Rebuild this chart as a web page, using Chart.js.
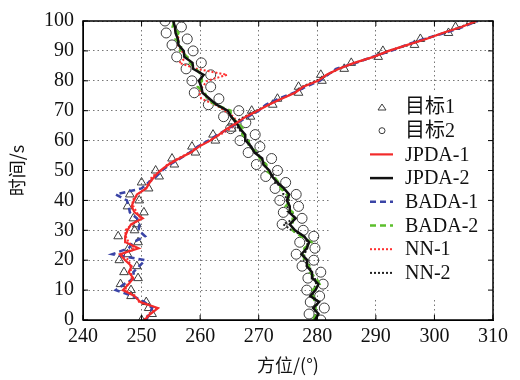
<!DOCTYPE html>
<html>
<head>
<meta charset="utf-8">
<script src="https://cdn.jsdelivr.net/npm/chart.js@4/dist/chart.umd.min.js"></script>
<style>
  body { margin: 0; background: #fff; }
  #wrap { width: 520px; height: 380px; }
</style>
</head>
<body>
<div id="wrap"><canvas id="c" width="520" height="380"></canvas></div>
<script>
// time axis (s), one sample every 2 s
const times = [0,2,4,6,8,10,12,14,16,18,20,22,24,26,28,30,32,34,36,38,40,42,44,46,48,50,
  52,54,56,58,60,62,64,66,68,70,72,74,76,78,80,82,84,86,88,90,92,94,96,98,100];

// measurements (bearing, deg)
const meas1 = [250,251.8,251.2,250.8,248.2,248.2,246.4,249.4,247,249.2,246.2,247.6,247.8,249.4,246,248.8,
  249.2,248.6,250.4,247.6,249.6,248,251.2,250,253,252.4,255.6,255.2,259.2,258.6,262.6,262.2,265.4,265.4,
  268.6,268.8,272.4,273.2,276.8,276.8,280.8,280.6,284.6,285.8,290.4,291.2,296.6,297.6,302.4,303.6,306.2];
const meas2 = [280.6,278.6,281.2,278.8,280.4,278.2,281,278.4,280.6,277.4,279.4,276.4,279.6,277,279.4,277.6,
  274,277.4,274.2,276.8,273.6,276.4,272.8,274.6,271.2,273.2,269.6,272.2,268.2,270.2,266.8,269.4,265.2,267.8,
  264,266.6,261.4,263.2,259,261.8,258.6,261.8,257.6,260.2,256,258.8,255.2,257.8,254.2,256.8,254];

// track estimates
const jpda1 = [250.5,251.5,252.8,249.8,248.8,246.8,247.8,248.6,247.8,248.3,247.2,246.3,249.5,247.3,247.2,247.6,
  248.2,250.2,248.8,248.3,248.7,249.2,250.8,251.4,252.2,253.2,254.6,256.4,258.4,259.8,261.7,263.2,264.6,266.3,
  267.8,269.8,271.7,273.9,276.2,277.6,280.1,281.6,283.7,286.3,289.6,292.2,295.4,298.6,301.4,304.6,307.2];
const jpda2 = [279.6,280.2,279.3,280.3,278.8,279.7,280.2,279.2,279.1,278.2,278.3,277.3,278.2,278.6,277.7,276.2,
  275.3,276.3,275.2,275.3,274.8,275.2,274.3,273.2,272.3,271.8,270.8,270.6,269.3,268.7,267.8,267.7,266.8,266.2,
  265.3,264.7,262.8,261.6,260.4,260.2,259.8,260.6,258.8,258.7,257.3,257.2,256.3,256.2,255.8,255.7,255.4];
const bada1 = [250.8,251.3,251.8,250.5,248.5,245.6,247,248.8,248.6,249.6,250.6,245,247.8,248.6,250.6,249.5,
  249.6,249.2,248,247.8,247.5,245.6,250,251.2,252.5,253.5,254.8,256.6,258.2,259.6,261.4,263,264.8,266.4,
  268.2,270,271.2,273.4,276,278,280.4,281.8,283.2,286.6,289.4,292.6,295.2,298.2,301.8,304.8,307.4];
const bada2 = [279.3,279.8,279.7,279.6,279.3,279.2,280.4,279.8,278.7,278.6,277.8,277.6,277.8,279,277.2,275.8,
  275.8,275.8,275.8,274.6,275.4,274.8,273.8,273.4,272.6,271.2,271.3,270.2,269.8,268.3,268.3,267.2,267.3,266.4,
  265.2,265.2,262.6,261.2,260.8,259.6,260.3,260.2,259.3,258.2,257.8,256.6,256.8,255.8,256.3,255.3,255.6];
const nn1 = [250.4,251.2,252.6,249.6,249,247.2,247.6,248.3,248.2,248.1,247.8,246.6,248.8,247.8,247.3,247.2,
  248.4,249.8,249.2,248.6,248.4,249.4,250.6,251.2,251.8,253.4,254.4,256.2,258.2,259.6,261.6,263.4,265.2,
  266.4,265.7,264.2,262.6,260.2,259.8,260.4,261.2,264.6,259.4,256.4,257.8,256.8,256.2,256.4,255.8,255.6,255.5];
const nn2 = [279.8,279.7,279.6,280.2,279.2,279.3,279.8,279.6,278.8,278.8,277.7,277.8,278.3,278.3,277.8,275.6,
  274.2,276.2,275.7,274.8,275.2,274.2,274.2,272.8,272.7,271.6,271.2,270.3,269.7,268.6,268.2,267.3,266.6,
  265.8,267.6,269.6,271.6,273.8,276.1,277.4,279.8,281.7,283.6,286.4,289.7,292.1,295.6,298.4,301.6,304.4,307.1];

const xTicks = [240,250,260,270,280,290,300,310];
const yTicks = [0,10,20,30,40,50,60,70,80,90,100];

const SERIF = "'Liberation Serif', 'Times New Roman', serif";
const CJK = "'Noto Sans CJK SC', sans-serif";

function pts(xs) {
  return xs.map((x, i) => ({ x: x, y: times[i] }));
}

function markerSet(label, xs, style) {
  return {
    label: label, data: pts(xs), showLine: false,
    pointStyle: style, pointRadius: 5, pointBorderWidth: 1,
    borderColor: '#3c3c3c', backgroundColor: 'rgba(0,0,0,0)', order: 20
  };
}

function lineSet(label, xs, color, dash, width) {
  return {
    label: label, data: pts(xs), showLine: true, pointRadius: 0,
    borderColor: color, backgroundColor: color, borderWidth: width,
    borderDash: dash, tension: 0, order: 1
  };
}

const datasets = [
  markerSet('目标1', meas1, 'triangle'),
  markerSet('目标2', meas2, 'circle'),
  lineSet('JPDA-1', jpda1, '#f22a2a', [], 2.2),
  lineSet('JPDA-2', jpda2, '#111111', [], 2.5),
  lineSet('BADA-1', bada1, '#3a44a6', [6, 4], 2.5),
  lineSet('BADA-2', bada2, '#5cbf2c', [6, 4], 2.5),
  lineSet('NN-1', nn1, '#ff3030', [2, 2], 2),
  lineSet('NN-2', nn2, '#222222', [2, 2], 2)
];

// legend inside the plot, one column
const legendBox = {
  id: 'legendBox',
  afterDraw(chart) {
    const ctx = chart.ctx;
    ctx.save();
    ctx.fillStyle = '#fff';
    ctx.fillRect(330, 90, 162, 208);
    const y0 = 107, step = 23.7;
    chart.data.datasets.forEach((ds, i) => {
      const y = y0 + i * step;
      ctx.strokeStyle = ds.borderColor;
      if (ds.showLine) {
        ctx.lineWidth = ds.borderWidth;
        ctx.setLineDash(ds.borderDash);
        ctx.beginPath();
        ctx.moveTo(370, y);
        ctx.lineTo(393, y);
        ctx.stroke();
        ctx.setLineDash([]);
      } else {
        ctx.lineWidth = 1;
        ctx.beginPath();
        if (ds.pointStyle === 'triangle') {
          ctx.moveTo(378, y + 3);
          ctx.lineTo(382, y - 3);
          ctx.lineTo(386, y + 3);
          ctx.closePath();
        } else {
          ctx.arc(382, y, 3, 0, Math.PI * 2);
        }
        ctx.stroke();
      }
      ctx.fillStyle = '#111';
      ctx.font = "20px 'Liberation Serif', 'Noto Sans CJK SC', serif";
      ctx.textBaseline = 'middle';
      ctx.textAlign = 'left';
      ctx.fillText(ds.label, 405, y + 1);
    });
    ctx.restore();
  }
};

// box round the plot with small inward ticks
const frame = {
  id: 'frame',
  afterDraw(chart) {
    const ctx = chart.ctx, a = chart.chartArea;
    const xs = chart.scales.x, ys = chart.scales.y;
    ctx.save();
    ctx.strokeStyle = '#000';
    ctx.lineWidth = 1;
    ctx.beginPath();
    yTicks.forEach(v => {
      const y = ys.getPixelForValue(v);
      ctx.moveTo(a.left, y); ctx.lineTo(a.left + 5, y);
      ctx.moveTo(a.right, y); ctx.lineTo(a.right - 5, y);
    });
    xTicks.forEach(v => {
      const x = xs.getPixelForValue(v);
      ctx.moveTo(x, a.bottom); ctx.lineTo(x, a.bottom - 5);
      ctx.moveTo(x, a.top); ctx.lineTo(x, a.top + 5);
    });
    ctx.stroke();
    ctx.lineWidth = 1.5;
    ctx.strokeRect(a.left, a.top, a.right - a.left, a.bottom - a.top);
    ctx.restore();
  }
};

new Chart(document.getElementById('c'), {
  type: 'scatter',
  data: { datasets: datasets },
  options: {
    responsive: false,
    devicePixelRatio: 1,
    animation: false,
    layout: { padding: { top: 18, right: 27, left: 0, bottom: 0 } },
    plugins: { legend: { display: false }, tooltip: { enabled: false } },
    scales: {
      x: {
        type: 'linear', min: 240, max: 310,
        afterFit(s) { s.height = 60; },
        afterBuildTicks(s) { s.ticks = xTicks.map(v => ({ value: v })); },
        ticks: { color: '#111', font: { family: SERIF, size: 20 }, padding: 5, maxRotation: 0 },
        grid: { color: '#777', lineWidth: 1, drawTicks: false },
        border: { display: true, color: '#000', width: 1, dash: [1.5, 3] },
        title: { display: true, text: '方位/(°)', color: '#111',
          font: { family: CJK, size: 18 }, padding: { top: 0, bottom: 4 } }
      },
      y: {
        type: 'linear', min: 0, max: 100,
        afterFit(s) { s.width = 83; },
        afterBuildTicks(s) { s.ticks = yTicks.map(v => ({ value: v })); },
        ticks: { color: '#111', font: { family: SERIF, size: 20 }, padding: 9 },
        grid: { color: '#777', lineWidth: 1, drawTicks: false },
        border: { display: true, color: '#000', width: 1, dash: [1.5, 3] },
        title: { display: true, text: '时间/s', color: '#111',
          font: { family: CJK, size: 18 }, padding: { top: 6, bottom: 0 } }
      }
    }
  },
  plugins: [legendBox, frame]
});
</script>
</body>
</html>
